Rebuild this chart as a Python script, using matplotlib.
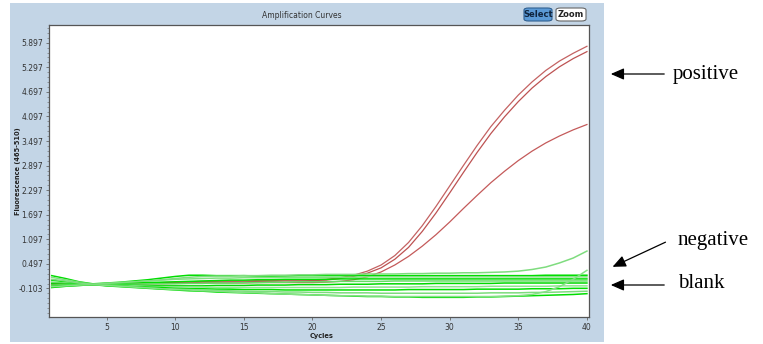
import matplotlib
matplotlib.use("Agg")
import matplotlib.pyplot as plt
from matplotlib.patches import Rectangle, FancyBboxPatch
import numpy as np

# ---------------- data ----------------
cycles = list(range(1, 41))

ytick_labels = ["-0.103", "0.497", "1.097", "1.697", "2.297", "2.897",
                "3.497", "4.097", "4.697", "5.297", "5.897"]
xtick_values = [5, 10, 15, 20, 25, 30, 35, 40]

# positive samples (red)
pos_1 = [0.02, 0.01, 0.00, -0.01, 0.00, 0.01, 0.02, 0.03, 0.04, 0.05,
         0.06, 0.07, 0.07, 0.08, 0.08, 0.09, 0.09, 0.10, 0.10, 0.11,
         0.12, 0.16, 0.22, 0.32, 0.47, 0.70, 1.02, 1.43, 1.90, 2.40,
         2.90, 3.39, 3.85, 4.25, 4.62, 4.94, 5.22, 5.45, 5.64, 5.81]
pos_2 = [0.00, -0.01, -0.01, -0.01, 0.00, 0.01, 0.02, 0.02, 0.03, 0.04,
         0.04, 0.05, 0.05, 0.06, 0.06, 0.07, 0.07, 0.08, 0.08, 0.09,
         0.10, 0.14, 0.19, 0.27, 0.40, 0.61, 0.90, 1.29, 1.74, 2.23,
         2.73, 3.22, 3.68, 4.09, 4.46, 4.79, 5.07, 5.31, 5.51, 5.68]
pos_3 = [0.01, 0.00, 0.00, -0.01, -0.01, 0.00, 0.00, 0.01, 0.01, 0.02,
         0.02, 0.02, 0.03, 0.03, 0.03, 0.04, 0.04, 0.04, 0.04, 0.04,
         0.05, 0.07, 0.11, 0.18, 0.30, 0.47, 0.68, 0.93, 1.21, 1.52,
         1.85, 2.17, 2.48, 2.76, 3.02, 3.25, 3.45, 3.62, 3.77, 3.90]

# negative sample (green, rises late)
neg_1 = [0.12, 0.08, 0.03, 0.00, 0.02, 0.04, 0.06, 0.08, 0.11, 0.14,
         0.17, 0.19, 0.20, 0.20, 0.21, 0.21, 0.22, 0.22, 0.23, 0.23,
         0.24, 0.24, 0.24, 0.25, 0.25, 0.25, 0.26, 0.26, 0.27, 0.27,
         0.28, 0.28, 0.29, 0.30, 0.32, 0.36, 0.42, 0.52, 0.64, 0.81]
neg_2 = [-0.06, -0.04, -0.02, -0.01, -0.03, -0.05, -0.07, -0.09, -0.11, -0.13,
         -0.14, -0.16, -0.17, -0.19, -0.20, -0.21, -0.23, -0.24, -0.25, -0.26,
         -0.27, -0.28, -0.28, -0.29, -0.29, -0.30, -0.30, -0.30, -0.30, -0.30,
         -0.30, -0.30, -0.30, -0.29, -0.28, -0.25, -0.18, -0.06, 0.12, 0.34]

# blanks (green)
blank_1 = [0.21, 0.14, 0.06, 0.01, 0.03, 0.05, 0.08, 0.11, 0.15, 0.19,
           0.22, 0.22, 0.21, 0.21, 0.21, 0.20, 0.20, 0.20, 0.21, 0.21,
           0.21, 0.21, 0.21, 0.21, 0.21, 0.21, 0.21, 0.21, 0.21, 0.21,
           0.21, 0.21, 0.21, 0.21, 0.21, 0.21, 0.22, 0.22, 0.22, 0.22]
blank_2 = [0.17, 0.11, 0.05, 0.00, 0.02, 0.04, 0.06, 0.08, 0.10, 0.12,
           0.13, 0.14, 0.15, 0.15, 0.16, 0.16, 0.16, 0.17, 0.17, 0.17,
           0.17, 0.17, 0.17, 0.18, 0.18, 0.18, 0.18, 0.18, 0.18, 0.18,
           0.18, 0.18, 0.18, 0.18, 0.18, 0.18, 0.18, 0.18, 0.18, 0.18]
blank_3 = [0.10, 0.06, 0.03, 0.00, 0.01, 0.02, 0.03, 0.04, 0.05, 0.06,
           0.07, 0.08, 0.09, 0.10, 0.10, 0.11, 0.11, 0.12, 0.12, 0.12,
           0.12, 0.13, 0.13, 0.13, 0.13, 0.13, 0.13, 0.13, 0.13, 0.13,
           0.13, 0.13, 0.13, 0.13, 0.13, 0.13, 0.13, 0.13, 0.13, 0.13]
blank_4 = [0.05, 0.03, 0.01, 0.00, 0.00, 0.00, 0.00, 0.01, 0.01, 0.01,
           0.02, 0.02, 0.03, 0.03, 0.04, 0.04, 0.05, 0.05, 0.06, 0.06,
           0.06, 0.07, 0.07, 0.07, 0.07, 0.08, 0.08, 0.08, 0.08, 0.08,
           0.08, 0.08, 0.08, 0.08, 0.08, 0.08, 0.08, 0.08, 0.08, 0.08]
blank_5 = [0.01, 0.00, 0.00, -0.01, -0.02, -0.02, -0.03, -0.03, -0.04, -0.04,
           -0.04, -0.04, -0.03, -0.03, -0.03, -0.02, -0.02, -0.02, -0.01, -0.01,
           -0.01, 0.00, 0.00, 0.00, 0.01, 0.01, 0.01, 0.01, 0.02, 0.02,
           0.02, 0.02, 0.02, 0.03, 0.03, 0.03, 0.03, 0.03, 0.03, 0.03]
blank_6 = [-0.03, -0.02, -0.01, -0.01, -0.02, -0.03, -0.04, -0.05, -0.06, -0.07,
           -0.07, -0.07, -0.08, -0.08, -0.08, -0.08, -0.08, -0.08, -0.08, -0.08,
           -0.08, -0.08, -0.07, -0.07, -0.07, -0.07, -0.07, -0.06, -0.06, -0.06,
           -0.06, -0.06, -0.05, -0.05, -0.05, -0.05, -0.05, -0.04, -0.04, -0.04]
blank_7 = [-0.05, -0.03, -0.02, -0.01, -0.03, -0.04, -0.06, -0.07, -0.08, -0.10,
           -0.11, -0.11, -0.12, -0.12, -0.13, -0.13, -0.13, -0.14, -0.14, -0.14,
           -0.14, -0.14, -0.14, -0.14, -0.14, -0.14, -0.13, -0.13, -0.13, -0.13,
           -0.13, -0.12, -0.12, -0.12, -0.12, -0.11, -0.11, -0.11, -0.10, -0.10]
blank_8 = [-0.07, -0.05, -0.03, -0.01, -0.03, -0.05, -0.07, -0.09, -0.11, -0.12,
           -0.13, -0.14, -0.15, -0.16, -0.17, -0.18, -0.18, -0.19, -0.19, -0.20,
           -0.20, -0.21, -0.21, -0.21, -0.22, -0.22, -0.22, -0.22, -0.22, -0.22,
           -0.22, -0.22, -0.21, -0.21, -0.21, -0.20, -0.20, -0.19, -0.18, -0.17]
blank_9 = [-0.08, -0.05, -0.03, -0.01, -0.04, -0.06, -0.08, -0.10, -0.12, -0.14,
           -0.16, -0.17, -0.19, -0.20, -0.21, -0.22, -0.23, -0.24, -0.25, -0.26,
           -0.27, -0.28, -0.29, -0.30, -0.30, -0.31, -0.31, -0.32, -0.32, -0.32,
           -0.32, -0.31, -0.31, -0.30, -0.29, -0.28, -0.27, -0.26, -0.25, -0.23]

positives = [pos_1, pos_2, pos_3]
greens = [blank_1, blank_2, blank_3, blank_4, blank_5, blank_6,
          blank_7, blank_8, blank_9, neg_2, neg_1]
green_colors = ["#00dd00", "#7fe07f", "#00e000", "#66dd66", "#00d800",
                "#8fe58f", "#00e000", "#7ddc7d", "#00dd00", "#86e086", "#7fdc7f"]

# ---------------- figure ----------------
W, H = 763, 344
fig = plt.figure(figsize=(W / 100, H / 100), dpi=100)
fig.patch.set_facecolor("white")


def fx(px):
    return px / W


def fy(py):
    return 1 - py / H


# blue panel (behind everything)
fig.patches.append(Rectangle((fx(10), fy(342)), fx(604) - fx(10), fy(3) - fy(342),
                             transform=fig.transFigure, facecolor="#c3d5e6",
                             edgecolor="none", zorder=-5))

ax = fig.add_axes([fx(49), fy(317), fx(589) - fx(49), fy(25) - fy(317)])
ax.set_zorder(1)
ax.set_facecolor("white")

for s, c in zip(positives, ["#c46262", "#bd5252", "#c45a5a"]):
    ax.plot(cycles, s, color=c, lw=0.9, zorder=2)
for s, c in zip(greens, green_colors):
    ax.plot(cycles, s, color=c, lw=1.1, zorder=3)

ytick_values = [float(t) for t in ytick_labels]
ax.set_yticks(ytick_values)
ax.set_yticklabels(ytick_labels)
ax.set_yticks(np.arange(-0.703, 6.3, 0.12), minor=True)
ax.set_xticks(xtick_values)
ax.set_xticklabels([str(v) for v in xtick_values])
ax.set_xlim(0.8, 40.15)
ax.set_ylim(-0.80, 6.33)

ax.tick_params(axis="both", which="major", labelsize=5.5, labelcolor="#333333",
               color="#666666", length=2.5, width=0.6, pad=1.5)
ax.tick_params(axis="y", which="minor", length=1.3, width=0.5, color="#777777")
for sp in ax.spines.values():
    sp.set_color("#555555")
    sp.set_linewidth(0.9)

fig.text(fx(18), fy(171), "Fluorescence (465-510)", rotation=90, ha="center",
         va="center", fontsize=4.8, fontweight="bold", color="#222222")
fig.text(fx(322), fy(336), "Cycles", ha="center", va="center", fontsize=4.8,
         fontweight="bold", color="#222222")
fig.text(fx(302), fy(15), "Amplification Curves", ha="center", va="center",
         fontsize=5.5, color="#333333")

# Select / Zoom buttons
fig.patches.append(FancyBboxPatch((fx(524), fy(21)), fx(552) - fx(524), fy(8) - fy(21),
                                  boxstyle="round,pad=0,rounding_size=0.006",
                                  transform=fig.transFigure, facecolor="#5b9ad6",
                                  edgecolor="#2f5f90", lw=0.8, zorder=2))
fig.text(fx(538), fy(14.5), "Select", ha="center", va="center", fontsize=6,
         fontweight="bold", color="#10253f", zorder=3)
fig.patches.append(FancyBboxPatch((fx(556), fy(21)), fx(586) - fx(556), fy(8) - fy(21),
                                  boxstyle="round,pad=0,rounding_size=0.006",
                                  transform=fig.transFigure, facecolor="white",
                                  edgecolor="#666666", lw=0.8, zorder=2))
fig.text(fx(571), fy(14.5), "Zoom", ha="center", va="center", fontsize=6,
         fontweight="bold", color="#222222", zorder=3)

# annotations
arrow_kw = dict(arrowstyle="-|>,head_length=0.8,head_width=0.35", color="black", lw=0.9)
serif = ["Liberation Serif", "DejaVu Serif"]
fig.text(fx(673), fy(75), "positive", ha="left", va="center", fontsize=15,
         family=serif)
ax.annotate("", xy=(fx(608), fy(74)), xytext=(fx(667), fy(74)),
            xycoords="figure fraction", textcoords="figure fraction",
            arrowprops=arrow_kw, annotation_clip=False)
fig.text(fx(678), fy(241), "negative", ha="left", va="center", fontsize=15,
         family=serif)
ax.annotate("", xy=(fx(610), fy(268)), xytext=(fx(668), fy(241)),
            xycoords="figure fraction", textcoords="figure fraction",
            arrowprops=arrow_kw, annotation_clip=False)
fig.text(fx(678), fy(284), "blank", ha="left", va="center", fontsize=15,
         family=serif)
ax.annotate("", xy=(fx(608), fy(285)), xytext=(fx(667), fy(285)),
            xycoords="figure fraction", textcoords="figure fraction",
            arrowprops=arrow_kw, annotation_clip=False)

fig.savefig("out.png", dpi=100)
